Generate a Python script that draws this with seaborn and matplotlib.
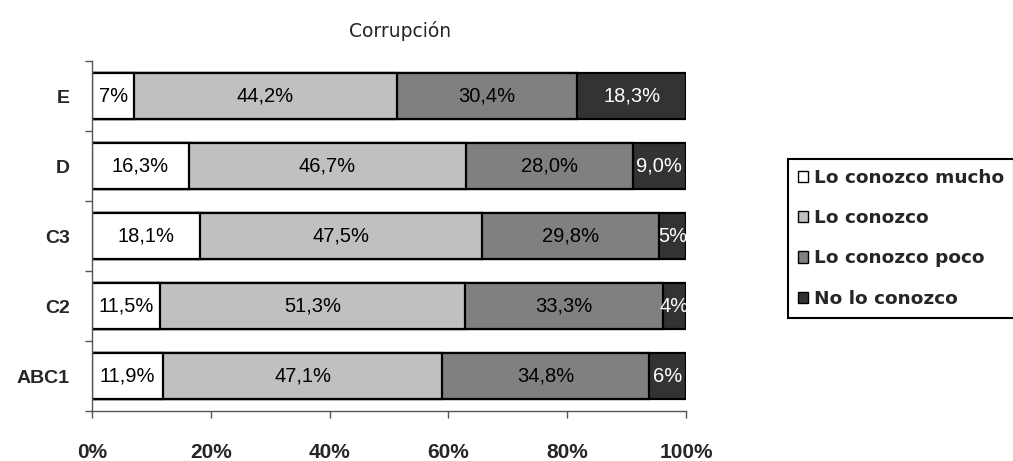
import numpy as np
import pandas as pd
import matplotlib
matplotlib.use("Agg")
import matplotlib.pyplot as plt
from matplotlib.patches import Patch
import seaborn as sns

# data (percent of each group)
groups = ["E", "D", "C3", "C2", "ABC1"]
mucho = [7.1, 16.3, 18.1, 11.5, 11.9]
conozco = [44.2, 46.7, 47.5, 51.3, 47.1]
poco = [30.4, 28.0, 29.8, 33.3, 34.8]
no_conozco = [18.3, 9.0, 4.6, 3.9, 6.2]

# labels as printed in the bars
mucho_txt = ["7%", "16,3%", "18,1%", "11,5%", "11,9%"]
conozco_txt = ["44,2%", "46,7%", "47,5%", "51,3%", "47,1%"]
poco_txt = ["30,4%", "28,0%", "29,8%", "33,3%", "34,8%"]
no_txt = ["18,3%", "9,0%", "5%", "4%", "6%"]

series_names = ["Lo conozco mucho", "Lo conozco", "Lo conozco poco", "No lo conozco"]
colors = ["#FFFFFF", "#C0C0C0", "#808080", "#333333"]
text_colors = ["black", "black", "black", "white"]


def main():
    sns.set_style("white")
    plt.rcParams["font.family"] = ["Liberation Sans", "DejaVu Sans"]

    df = pd.DataFrame({"group": groups, "mucho": mucho, "conozco": conozco,
                       "poco": poco, "no": no_conozco})
    cols = ["mucho", "conozco", "poco", "no"]
    cum = df[cols].cumsum(axis=1)
    texts = [mucho_txt, conozco_txt, poco_txt, no_txt]

    fig = plt.figure(figsize=(10.13, 4.61), dpi=100)
    ax = fig.add_axes([92 / 1013, 1 - 411 / 461, 594 / 1013, 350 / 461])

    # stacked bars: draw cumulative totals from the back to the front
    for i in range(len(cols) - 1, -1, -1):
        sns.barplot(x=cum[cols[i]].values, y=df["group"], orient="h", color=colors[i],
                    saturation=1, width=0.66, edgecolor="black", linewidth=1.6, ax=ax)

    for i, col in enumerate(cols):
        left = cum[col] - df[col]
        for j in range(len(groups)):
            ax.text(left[j] + df[col][j] / 2, j, texts[i][j], ha="center", va="center",
                    fontsize=14.5, color=text_colors[i])

    ax.set_xlim(0, 100)
    ax.set_ylim(4.5, -0.5)
    ax.set_xlabel("")
    ax.set_ylabel("")
    ax.set_xticks(np.arange(0, 101, 20))
    ax.set_xticklabels([f"{v}%" for v in range(0, 101, 20)], fontsize=15, fontweight="bold")
    ax.set_yticks(range(len(groups)))
    ax.set_yticklabels(groups, fontsize=14, fontweight="bold")
    ax.set_yticks(np.arange(-0.5, len(groups), 1), minor=True)
    ax.tick_params(axis="y", which="major", length=0, pad=16)
    ax.tick_params(axis="y", which="minor", length=5, width=1, color="#555555", direction="out", left=True)
    ax.tick_params(axis="x", length=5, width=1, color="#555555", direction="out", pad=18, bottom=True)
    for s in ["top", "right"]:
        ax.spines[s].set_visible(False)
    for s in ["left", "bottom"]:
        ax.spines[s].set_color("#555555")
        ax.spines[s].set_linewidth(1)

    fig.text(400 / 1013, 1 - 31 / 461, "Corrupción", ha="center", va="center",
             fontsize=13.5, family=["DejaVu Sans"])

    handles = [Patch(facecolor=c, edgecolor="black", linewidth=1) for c in colors]
    leg = fig.legend(handles, series_names, loc="upper left",
                     bbox_to_anchor=(788 / 1013, 1 - 159 / 461), borderaxespad=0,
                     fancybox=False, framealpha=1, edgecolor="black",
                     prop={"family": "DejaVu Sans", "weight": "bold", "size": 13.3},
                     handlelength=0.55, handleheight=0.55, handletextpad=0.3,
                     labelspacing=1.2, borderpad=0.55)
    leg.get_frame().set_linewidth(1.5)

    fig.savefig("out.png", dpi=100)
    plt.close(fig)


if __name__ == "__main__":
    main()
